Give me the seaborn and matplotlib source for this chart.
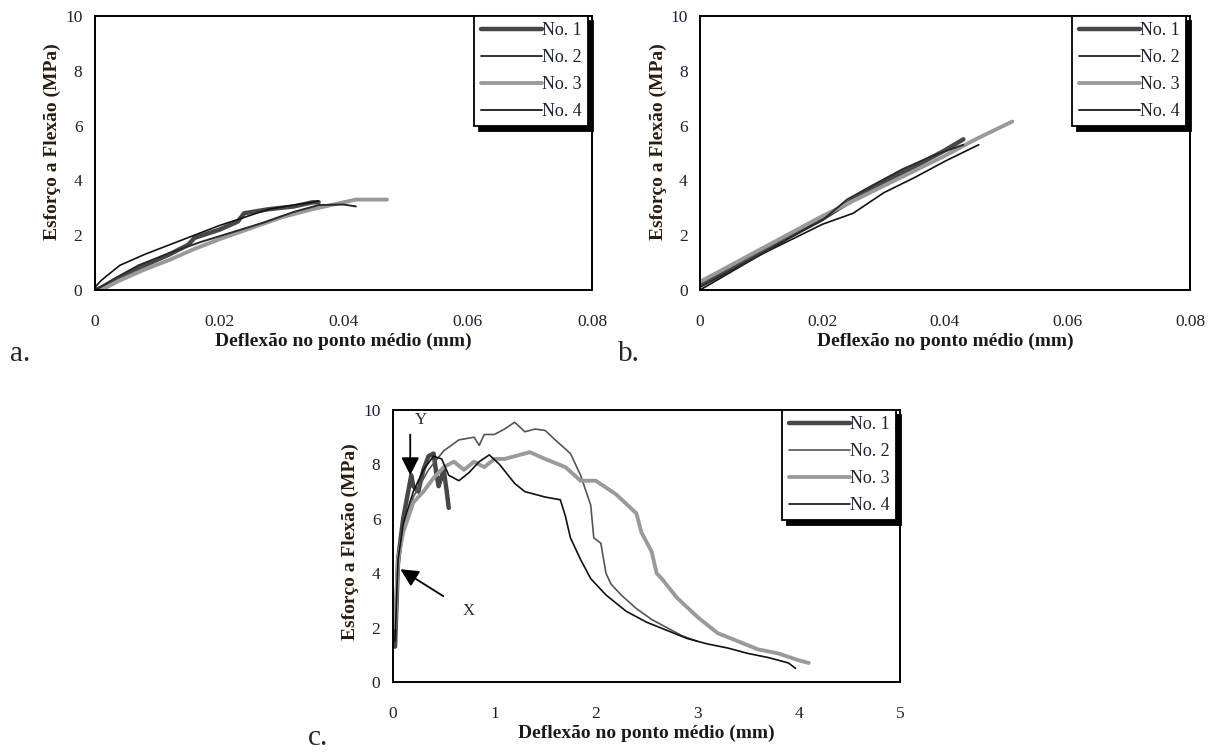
import pandas as pd
import numpy as np
import matplotlib
matplotlib.use('Agg')
import matplotlib.pyplot as plt
import seaborn as sns

# painel a
a_x1 = [0, 0.002, 0.005, 0.008, 0.012, 0.015, 0.016, 0.02, 0.023, 0.024, 0.028, 0.032, 0.035, 0.036]
a_y1 = [0, 0.15, 0.55, 0.9, 1.3, 1.65, 1.9, 2.2, 2.5, 2.8, 2.95, 3.05, 3.2, 3.2]
a_x2 = [0, 0.001, 0.004, 0.008, 0.012, 0.016, 0.02, 0.024, 0.028, 0.032, 0.035, 0.036]
a_y2 = [0.1, 0.35, 0.9, 1.3, 1.65, 2.0, 2.35, 2.65, 2.95, 3.1, 3.2, 3.25]
a_x3 = [0.001, 0.004, 0.008, 0.012, 0.016, 0.02, 0.025, 0.03, 0.035, 0.04, 0.042, 0.047]
a_y3 = [0, 0.35, 0.75, 1.1, 1.5, 1.85, 2.25, 2.65, 2.95, 3.2, 3.3, 3.3]
a_x4 = [0, 0.003, 0.007, 0.012, 0.017, 0.022, 0.027, 0.032, 0.036, 0.04, 0.042]
a_y4 = [0, 0.4, 0.9, 1.35, 1.75, 2.1, 2.45, 2.85, 3.1, 3.12, 3.05]

# painel b
b_x1 = [0, 0.005, 0.01, 0.015, 0.02, 0.025, 0.03, 0.035, 0.04, 0.043]
b_y1 = [0.2, 0.8, 1.4, 2.0, 2.6, 3.3, 3.95, 4.5, 5.1, 5.5]
b_x2 = [0, 0.005, 0.01, 0.015, 0.02, 0.025, 0.03, 0.035, 0.04, 0.0455]
b_y2 = [0, 0.65, 1.3, 1.85, 2.4, 2.8, 3.55, 4.1, 4.7, 5.3]
b_x3 = [0, 0.005, 0.01, 0.015, 0.02, 0.025, 0.03, 0.035, 0.04, 0.045, 0.051]
b_y3 = [0.3, 0.9, 1.5, 2.1, 2.7, 3.25, 3.8, 4.35, 4.9, 5.5, 6.15]
b_x4 = [0, 0.005, 0.01, 0.015, 0.02, 0.024, 0.028, 0.033, 0.038, 0.043]
b_y4 = [0.1, 0.7, 1.3, 1.95, 2.55, 3.3, 3.8, 4.4, 4.9, 5.3]

# painel c
c_x1 = [0.02, 0.05, 0.1, 0.15, 0.18, 0.2, 0.25, 0.28, 0.3, 0.35, 0.4, 0.43, 0.45, 0.5, 0.53, 0.55]
c_y1 = [1.3, 4.5, 6.0, 7.0, 7.6, 7.2, 7.0, 7.5, 7.8, 8.3, 8.4, 7.6, 7.2, 7.8, 7.0, 6.4]
c_x2 = [0.02, 0.05, 0.1, 0.2, 0.35, 0.5, 0.65, 0.8, 0.85, 0.9, 1.0, 1.1, 1.2, 1.3, 1.4, 1.5,
        1.6, 1.75, 1.85, 1.95, 1.98, 2.05, 2.1, 2.15, 2.25, 2.4, 2.55, 2.7, 2.85, 3.0]
c_y2 = [1.5, 4.0, 5.5, 6.8, 7.8, 8.5, 8.9, 9.0, 8.7, 9.1, 9.1, 9.3, 9.55, 9.2, 9.3, 9.25,
        8.9, 8.4, 7.6, 6.5, 5.3, 5.1, 4.0, 3.6, 3.2, 2.7, 2.3, 2.0, 1.7, 1.5]
c_x3 = [0.02, 0.05, 0.1, 0.2, 0.3, 0.4, 0.5, 0.6, 0.7, 0.8, 0.9, 1.0, 1.1, 1.2, 1.35, 1.5,
        1.7, 1.85, 2.0, 2.2, 2.4, 2.45, 2.55, 2.6, 2.65, 2.8, 3.0, 3.2, 3.4, 3.6, 3.8, 4.0, 4.1]
c_y3 = [2.0, 4.5, 5.5, 6.6, 7.0, 7.5, 7.9, 8.1, 7.8, 8.1, 7.9, 8.2, 8.2, 8.3, 8.45, 8.2,
        7.9, 7.4, 7.4, 6.9, 6.2, 5.5, 4.8, 4.0, 3.8, 3.1, 2.4, 1.8, 1.5, 1.2, 1.05, 0.8, 0.7]
c_x4 = [0.02, 0.05, 0.1, 0.2, 0.3, 0.4, 0.48, 0.55, 0.65, 0.75, 0.85, 0.95, 1.05, 1.2, 1.3,
        1.5, 1.65, 1.7, 1.75, 1.85, 1.95, 2.1, 2.3, 2.5, 2.7, 2.9, 3.1, 3.3, 3.5, 3.7, 3.9, 3.97]
c_y4 = [1.5, 4.5, 5.8, 7.0, 7.8, 8.3, 8.2, 7.6, 7.4, 7.7, 8.1, 8.35, 8.0, 7.3, 7.0,
        6.8, 6.7, 6.1, 5.3, 4.5, 3.8, 3.2, 2.6, 2.2, 1.9, 1.6, 1.4, 1.25, 1.05, 0.9, 0.7, 0.5]

nomes = ['No. 1', 'No. 2', 'No. 3', 'No. 4']


def montar(series):
    partes = []
    for nome, (x, y) in zip(nomes, series):
        partes.append(pd.DataFrame({'x': x, 'y': y, 'amostra': nome}))
    return pd.concat(partes, ignore_index=True)


df_a = montar([(a_x1, a_y1), (a_x2, a_y2), (a_x3, a_y3), (a_x4, a_y4)])
df_b = montar([(b_x1, b_y1), (b_x2, b_y2), (b_x3, b_y3), (b_x4, b_y4)])
df_c = montar([(c_x1, c_y1), (c_x2, c_y2), (c_x3, c_y3), (c_x4, c_y4)])

sns.set_theme(style='white')
plt.rcParams['font.family'] = ['Liberation Serif', 'DejaVu Serif']

W, H = 1214, 756
fig = plt.figure(figsize=(W / 100, H / 100), dpi=100)


def caixa(x0, x1, y0, y1):
    # pixels -> fração da figura
    return [x0 / W, 1 - y1 / H, (x1 - x0) / W, (y1 - y0) / H]


ax_a = fig.add_axes(caixa(95, 592, 16, 290))
ax_b = fig.add_axes(caixa(700, 1190, 16, 290))
ax_c = fig.add_axes(caixa(393, 900, 410, 682))


def desenhar(ax, df, cores, larguras, xmax, xticks, xlabels, ylab_y):
    for nome, cor, lw in zip(nomes, cores, larguras):
        sub = df[df['amostra'] == nome]
        sns.lineplot(data=sub, x='x', y='y', ax=ax, color=cor, lw=lw,
                     sort=False, estimator=None, label=nome)
    ax.set_xlim(0, xmax)
    ax.set_ylim(0, 10)
    ax.set_xticks(xticks)
    ax.set_xticklabels(xlabels)
    ax.set_yticks([0, 2, 4, 6, 8, 10])
    ax.tick_params(axis='both', labelsize=12.5, direction='out', length=4,
                   width=1.3, colors='black', labelcolor='#1c2233')
    ax.tick_params(axis='x', pad=13)
    ax.tick_params(axis='y', pad=5)
    for s in ax.spines.values():
        s.set_color('black')
        s.set_linewidth(1.4)
    ax.set_xlabel('Deflexão no ponto médio (mm)', fontsize=14, fontweight='bold',
                  color='#1a1a1a', labelpad=2)
    ax.set_ylabel('Esforço a Flexão (MPa)', fontsize=14, fontweight='bold',
                  color='#2b1d0e')
    ax.yaxis.set_label_coords(-0.068, ylab_y)
    larg_ax = ax.get_position().width * W
    leg = ax.legend(loc='upper right', bbox_to_anchor=(1 - 4 / larg_ax, 1),
                    fontsize=13, frameon=True, fancybox=False,
                    framealpha=1, edgecolor='black', handlelength=3.4,
                    handletextpad=0.0, borderpad=0.35, labelspacing=0.55,
                    borderaxespad=0,
                    shadow={'color': 'black', 'alpha': 1, 'ox': 3.5, 'oy': -3.5})
    leg.get_frame().set_linewidth(1.3)
    for t in leg.get_texts():
        t.set_color('#1c2233')


cores_ab = ['#474747', '#111111', '#9a9a9a', '#2a2a2a']
larg_ab = [3.2, 1.2, 2.8, 1.4]
desenhar(ax_a, df_a, cores_ab, larg_ab, 0.08, [0, 0.02, 0.04, 0.06, 0.08],
         ['0', '0.02', '0.04', '0.06', '0.08'], 0.54)
desenhar(ax_b, df_b, cores_ab, larg_ab, 0.08, [0, 0.02, 0.04, 0.06, 0.08],
         ['0', '0.02', '0.04', '0.06', '0.08'], 0.54)
cores_c = ['#474747', '#555555', '#9a9a9a', '#111111']
larg_c = [3.2, 1.2, 2.8, 1.2]
desenhar(ax_c, df_c, cores_c, larg_c, 5, [0, 1, 2, 3, 4, 5],
         ['0', '1', '2', '3', '4', '5'], 0.515)

# setas X e Y
ax_c.annotate('', xy=(0.17, 7.5), xytext=(0.17, 9.2),
              arrowprops=dict(arrowstyle='-|>', color='black', lw=1.3,
                              mutation_scale=27))
ax_c.text(0.27, 9.65, 'Y', fontsize=12, ha='center', va='center')
ax_c.annotate('', xy=(0.05, 4.2), xytext=(0.52, 3.1),
              arrowprops=dict(arrowstyle='-|>', color='black', lw=1.3,
                              mutation_scale=27))
ax_c.text(0.75, 2.6, 'X', fontsize=12, ha='center', va='center')

fig.text(10 / W, 1 - 354 / H, 'a.', fontsize=21, va='center')
fig.text(618 / W, 1 - 354 / H, 'b.', fontsize=21, va='center')
fig.text(308 / W, 1 - 738 / H, 'c.', fontsize=21, va='center')

fig.savefig('out.png', dpi=100, facecolor='white')
